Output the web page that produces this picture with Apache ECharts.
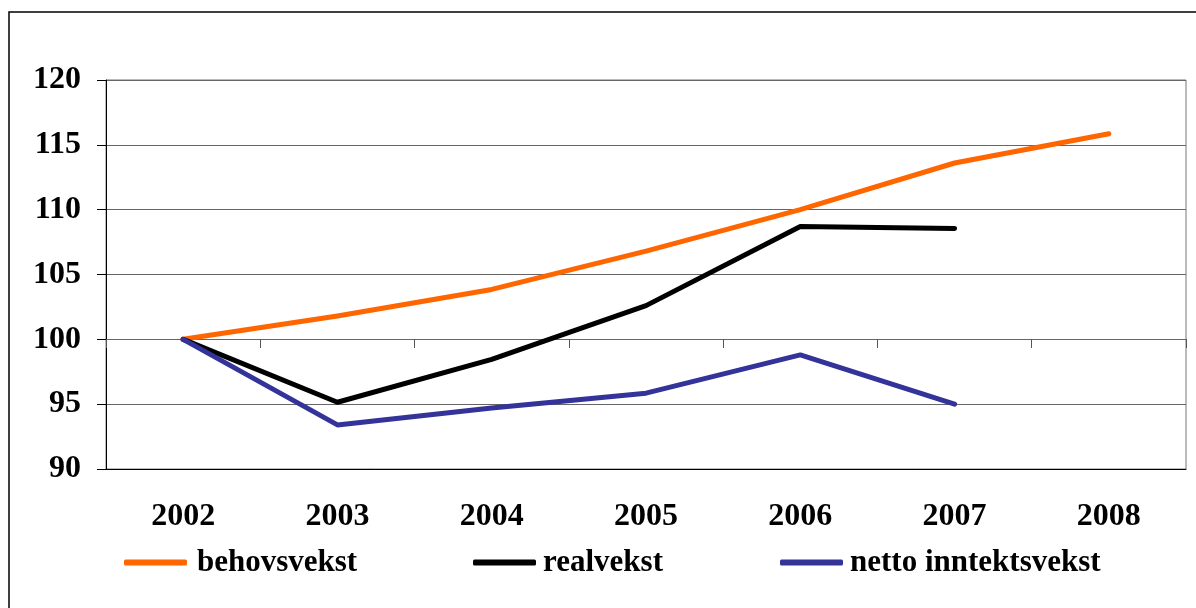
<!DOCTYPE html>
<html>
<head>
<meta charset="utf-8">
<script src="https://cdn.jsdelivr.net/npm/echarts@6/dist/echarts.min.js"></script>
<style>
html, body { margin: 0; padding: 0; background: #fff; }
#chartDom { width: 1196px; height: 608px; }
</style>
</head>
<body>
<div id="chartDom"></div>
<script>
// data
const years = ['2002', '2003', '2004', '2005', '2006', '2007', '2008']
const behovsvekst = [100, 101.8, 103.85, 106.8, 110.0, 113.6, 115.85]
const realvekst = [100, 95.15, 98.45, 102.6, 108.7, 108.55, null]
const nettoInntektsvekst = [100, 93.4, 94.7, 95.85, 98.8, 95.0, null]

const font = 'Liberation Serif'
const chart = echarts.init(document.getElementById('chartDom'))

function legendAt (left, name, gap) {
  return {
    left: left,
    top: 547,
    data: [name],
    icon: 'roundRect',
    itemWidth: 63,
    itemHeight: 6,
    padding: 0,
    textStyle: {
      fontFamily: font,
      fontWeight: 'bold',
      fontSize: 31,
      color: '#000',
      padding: [0, 0, 0, gap]
    }
  }
}

const option = {
  animation: false,
  backgroundColor: '#fff',
  graphic: [{
    type: 'rect',
    shape: { x: 9, y: 12, width: 1200, height: 620 },
    style: { fill: 'none', stroke: '#000', lineWidth: 1.5 }
  }],
  grid: {
    left: 106,
    right: 10,
    top: 80,
    bottom: 139,
    show: true,
    borderColor: '#777',
    borderWidth: 1
  },
  legend: [
    legendAt(124, 'behovsvekst', 5),
    legendAt(473, 'realvekst', 2),
    legendAt(780, 'netto inntektsvekst', 2)
  ],
  xAxis: [
    {
      type: 'category',
      data: years,
      boundaryGap: true,
      position: 'bottom',
      axisLine: { show: true, lineStyle: { color: '#000', width: 1 } },
      axisTick: { show: false },
      axisLabel: {
        margin: 32,
        fontFamily: font,
        fontWeight: 'bold',
        fontSize: 32,
        color: '#000'
      }
    },
    {
      // ticks sitting on the 100 line
      type: 'category',
      data: years,
      boundaryGap: true,
      position: 'bottom',
      offset: -130,
      axisLine: { show: false },
      axisTick: { show: true, length: 9, lineStyle: { color: '#555' } },
      axisLabel: { show: false }
    }
  ],
  yAxis: {
    type: 'value',
    min: 90,
    max: 120,
    interval: 5,
    axisLine: { show: true, lineStyle: { color: '#000', width: 1 } },
    axisTick: { show: true, length: 9, lineStyle: { color: '#000' } },
    splitLine: { show: true, lineStyle: { color: '#666', width: 1 } },
    axisLabel: {
      margin: 25,
      fontFamily: font,
      fontWeight: 'bold',
      fontSize: 32,
      color: '#000'
    }
  },
  series: [
    {
      name: 'behovsvekst',
      type: 'line',
      data: behovsvekst,
      symbol: 'none',
      color: '#FF6600',
      lineStyle: { width: 5, color: '#FF6600', cap: 'round', join: 'round' }
    },
    {
      name: 'realvekst',
      type: 'line',
      data: realvekst,
      symbol: 'none',
      color: '#000000',
      lineStyle: { width: 5, color: '#000000', cap: 'round', join: 'round' }
    },
    {
      name: 'netto inntektsvekst',
      type: 'line',
      data: nettoInntektsvekst,
      symbol: 'none',
      color: '#333399',
      lineStyle: { width: 5, color: '#333399', cap: 'round', join: 'round' }
    }
  ]
}
chart.setOption(option)
</script>
</body>
</html>
